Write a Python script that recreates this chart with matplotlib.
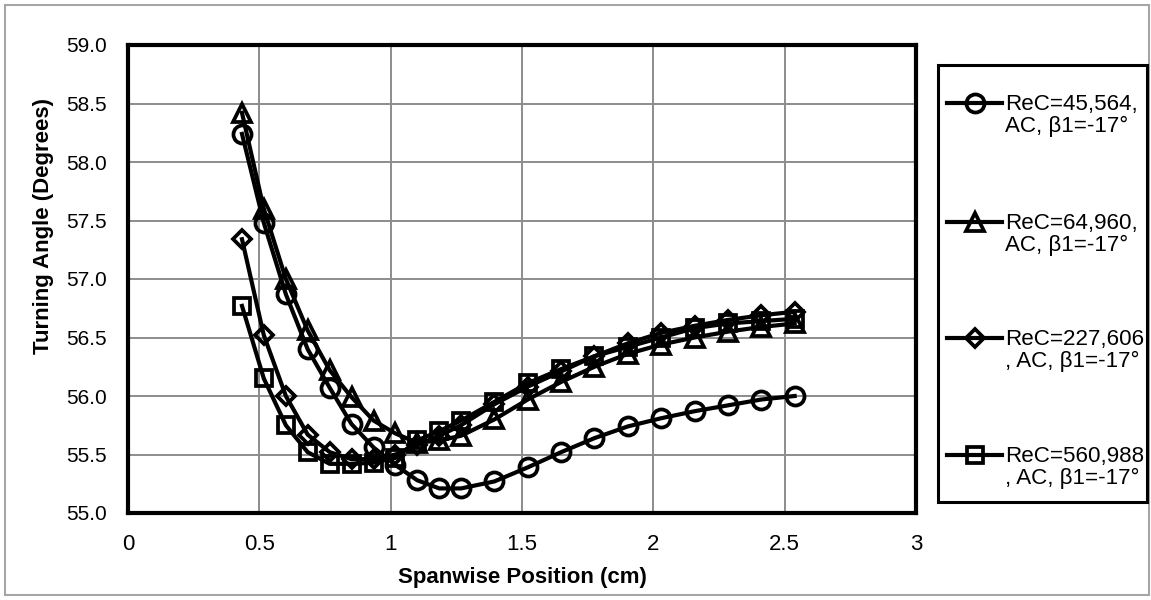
import numpy as np
import matplotlib.pyplot as plt
from matplotlib.lines import Line2D
from matplotlib.patches import Rectangle

# spanwise positions (cm), same for every series
x = [0.434, 0.517, 0.601, 0.684, 0.768, 0.851, 0.935, 1.018, 1.101, 1.185, 1.268,
     1.395, 1.522, 1.649, 1.776, 1.903, 2.030, 2.157, 2.284, 2.411, 2.538]

re_45564 = [58.24, 57.48, 56.87, 56.40, 56.07, 55.76, 55.56, 55.41, 55.28, 55.21, 55.21,
            55.27, 55.39, 55.52, 55.64, 55.74, 55.81, 55.87, 55.92, 55.97, 56.00]
re_64960 = [58.42, 57.60, 57.00, 56.56, 56.22, 55.99, 55.79, 55.68, 55.60, 55.62, 55.66,
            55.80, 55.97, 56.12, 56.25, 56.36, 56.44, 56.50, 56.55, 56.59, 56.62]
re_227606 = [57.34, 56.52, 56.00, 55.67, 55.52, 55.46, 55.46, 55.50, 55.58, 55.66, 55.75,
             55.93, 56.08, 56.21, 56.34, 56.45, 56.54, 56.60, 56.65, 56.69, 56.72]
re_560988 = [56.77, 56.15, 55.75, 55.52, 55.42, 55.42, 55.43, 55.47, 55.62, 55.70, 55.79,
             55.95, 56.11, 56.23, 56.34, 56.42, 56.50, 56.58, 56.62, 56.64, 56.66]

labels = ['ReC=45,564,\nAC, \u03b21=-17\u00b0',
          'ReC=64,960,\nAC, \u03b21=-17\u00b0',
          'ReC=227,606\n, AC, \u03b21=-17\u00b0',
          'ReC=560,988\n, AC, \u03b21=-17\u00b0']

plt.rcParams['font.family'] = ['Liberation Sans', 'DejaVu Sans']

W, H = 1151, 600
fig = plt.figure(figsize=(W / 100, H / 100), dpi=100)
ax = fig.add_axes([128 / W, 1 - 513 / H, (916 - 128) / W, (513 - 45) / H])

styles = [
    dict(marker='o', markersize=13),
    dict(marker='^', markersize=13),
    dict(marker='D', markersize=9),
    dict(marker='s', markersize=11.5),
]
series = [re_45564, re_64960, re_227606, re_560988]

for ys, st in zip(series, styles):
    ax.plot(x, ys, color='black', linewidth=3.0, markerfacecolor='none',
            markeredgecolor='black', markeredgewidth=2.7, **st)

ax.set_xlim(0, 3)
ax.set_ylim(55, 59)
ax.set_xticks(np.arange(0, 3.01, 0.5))
ax.set_xticklabels(['0', '0.5', '1', '1.5', '2', '2.5', '3'], fontsize=16)
ax.set_yticks(np.arange(55, 59.01, 0.5))
ax.set_yticklabels(['%.1f' % v for v in np.arange(55, 59.01, 0.5)], fontsize=15)
ax.tick_params(length=0, pad=15)
ax.grid(True, color='#8c8c8c', linewidth=1.4)
ax.set_axisbelow(True)
for s in ax.spines.values():
    s.set_linewidth(3)
    s.set_color('black')

ax.set_xlabel('Spanwise Position (cm)', fontsize=16, fontweight='bold', labelpad=9)
ax.set_ylabel('Turning Angle (Degrees)', fontsize=16, fontweight='bold')
ax.yaxis.set_label_coords(-0.094, 0.613)


def fx(px):
    return px / W


def fy(py):
    return 1 - py / H


# outer chart border
fig.add_artist(Rectangle((fx(5), fy(595)), fx(1144), 590 / H, transform=fig.transFigure,
                         fill=False, edgecolor='#a6a6a6', linewidth=1.5))

# legend box
fig.add_artist(Rectangle((fx(938), fy(502)), fx(1147 - 938), (502 - 65) / H,
                         transform=fig.transFigure, fill=False, edgecolor='black',
                         linewidth=2.2))
legend_y = [103, 222, 338, 455]
for yy, st, lab in zip(legend_y, styles, labels):
    fig.add_artist(Line2D([fx(947), fx(1002)], [fy(yy), fy(yy)], transform=fig.transFigure,
                          color='black', linewidth=3.0))
    fig.add_artist(Line2D([fx(974.5)], [fy(yy)], transform=fig.transFigure, color='black',
                          markerfacecolor='none', markeredgecolor='black',
                          markeredgewidth=2.7, linestyle='none', **st))
    fig.text(fx(1005), fy(yy + 12.5), lab, fontsize=16.1, va='center', ha='left',
             linespacing=1.05)

fig.savefig('out.png', dpi=100)
